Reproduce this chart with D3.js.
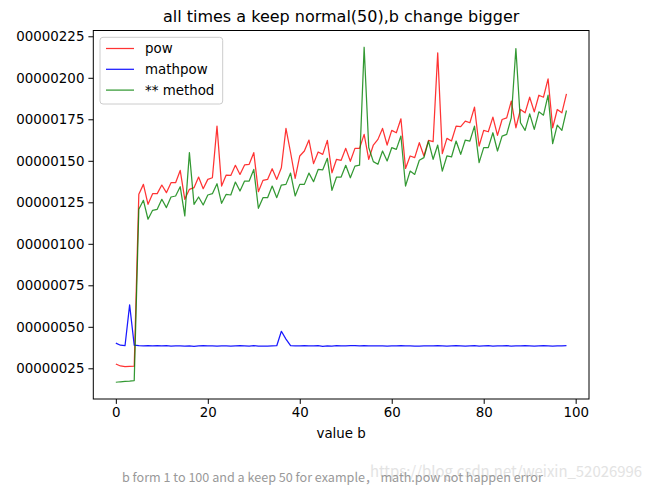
<!DOCTYPE html>
<html>
<head>
<meta charset="utf-8">
<script src="https://cdn.jsdelivr.net/npm/d3@7"></script>
<style>
  html, body { margin: 0; padding: 0; background: #fff; }
  svg { display: block; font-family: "DejaVu Sans", sans-serif; }
</style>
</head>
<body>
<svg id="chart" width="651" height="492"></svg>
<script>
// ---- data ----
const xValues = d3.range(0, 99); // value b
const powValues = [
  27.6, 26.4, 26.0, 26.2, 26.3, 129.8, 135.8, 123.8, 130.2, 130.2,
  135.4, 130.8, 136.8, 136.8, 144.2, 126.8, 132.8, 133.8, 140.2, 133.2,
  138.8, 139.8, 170.9, 134.8, 141.4, 141.2, 147.3, 141.8, 147.5, 147.9,
  154.9, 131.4, 138.2, 138.8, 145.2, 138.8, 145.8, 169.5, 155.0, 139.4,
  152.9, 155.9, 162.5, 148.3, 155.3, 153.9, 162.3, 142.8, 150.9, 150.3,
  157.5, 149.7, 157.5, 157.5, 165.9, 150.9, 159.5, 162.9, 169.5, 159.5,
  168.3, 166.9, 175.3, 145.4, 152.9, 151.9, 160.9, 152.9, 162.3, 161.5,
  215.0, 154.3, 163.5, 161.9, 170.9, 170.6, 173.9, 172.9, 182.3, 158.9,
  168.3, 167.5, 176.3, 165.3, 174.9, 175.9, 185.9, 169.9, 180.9, 178.9,
  188.3, 179.5, 189.5, 188.3, 199.4, 169.9, 180.9, 178.9, 190.3
];
const mathpowValues = [
  40.2, 38.9, 38.6, 63.2, 38.9, 38.6, 38.5, 38.6, 38.5, 38.6,
  38.5, 38.6, 38.4, 38.5, 38.5, 38.4, 38.5, 38.2, 38.5, 38.6,
  38.5, 38.5, 38.4, 38.5, 38.5, 38.3, 38.5, 38.6, 38.5, 38.4,
  38.6, 38.4, 38.3, 38.4, 38.5, 38.6, 47.3, 42.6, 38.6, 38.5,
  38.5, 38.6, 38.5, 38.5, 38.6, 38.2, 38.5, 38.4, 38.6, 38.5,
  38.5, 38.6, 38.6, 38.5, 38.6, 38.5, 38.5, 38.5, 38.5, 38.4,
  38.5, 38.5, 38.7, 38.5, 38.5, 38.3, 38.4, 38.5, 38.5, 38.5,
  38.6, 38.5, 38.4, 38.5, 38.6, 38.5, 38.3, 38.5, 38.6, 38.4,
  38.5, 38.6, 38.4, 38.5, 38.5, 38.6, 38.4, 38.5, 38.5, 38.6,
  38.5, 38.4, 38.5, 38.6, 38.5, 38.4, 38.5, 38.5, 38.6
];
const starValues = [
  16.6, 16.9, 17.1, 17.3, 17.6, 120.8, 126.2, 114.8, 120.2, 120.8,
  126.8, 121.8, 128.2, 128.8, 134.4, 116.8, 154.9, 123.8, 128.2, 123.4,
  129.4, 130.2, 136.2, 124.4, 129.8, 129.4, 137.2, 131.8, 137.8, 137.8,
  144.8, 121.4, 127.8, 127.8, 134.8, 127.8, 135.4, 135.8, 142.6, 128.8,
  135.8, 135.8, 142.6, 137.4, 144.8, 144.6, 151.5, 132.2, 140.2, 140.2,
  147.3, 139.8, 146.8, 147.4, 218.4, 158.0, 149.5, 147.9, 155.9, 149.9,
  157.9, 156.9, 164.9, 134.8, 143.8, 141.8, 150.3, 151.9, 161.9, 150.9,
  159.5, 143.8, 152.9, 152.3, 161.9, 153.9, 162.5, 161.9, 170.9, 148.9,
  157.9, 157.9, 166.9, 155.9, 164.9, 165.9, 175.9, 217.6, 172.9, 168.3,
  178.3, 168.9, 179.5, 177.5, 189.5, 160.3, 171.5, 168.3, 180.3
];
const seriesNames = ["pow", "mathpow", "** method"];
const seriesColors = ["#ff0000", "#0000ff", "#008000"];
const xTicks = [0, 20, 40, 60, 80, 100];
const yTicks = [25, 50, 75, 100, 125, 150, 175, 200, 225];
const titleText = "all times a keep normal(50),b change bigger";
const xLabelText = "value b";
const captionText = "b form 1 to 100 and a keep 50 for example，  math.pow not happen error";
const watermarkText = "https://blog.csdn.net/weixin_52026996";

// ---- layout ----
const svg = d3.select("#chart");
const L = 93.3, R = 589, T = 30.5, B = 399;

const allY = powValues.concat(mathpowValues, starValues);
const yMin = d3.min(allY), yMax = d3.max(allY);
const yPad = (yMax - yMin) * 0.05;
const xPad = (d3.max(xValues) - d3.min(xValues)) * 0.05;

const x = d3.scaleLinear().domain([d3.min(xValues) - xPad, d3.max(xValues) + xPad]).range([L, R]);
const y = d3.scaleLinear().domain([yMin - yPad, yMax + yPad]).range([B, T]);

svg.append("rect").attr("width", 651).attr("height", 492).attr("fill", "#fff");

// lines
const series = [powValues, mathpowValues, starValues];
const line = d3.line().x((d, i) => x(xValues[i])).y(d => y(d));
const g = svg.append("g");
[0, 1, 2].forEach(k => {
  g.append("path")
    .datum(series[k])
    .attr("d", line)
    .attr("fill", "none")
    .attr("stroke", seriesColors[k])
    .attr("stroke-opacity", k === 1 ? 0.9 : 0.8)
    .attr("stroke-width", 1.25)
    .attr("stroke-linejoin", "round");
});

// axes
const fmt = d3.format("08d");
const xAxis = d3.axisBottom(x).tickValues(xTicks).tickSize(4.9).tickPadding(4);
const yAxis = d3.axisLeft(y).tickValues(yTicks).tickFormat(fmt).tickSize(4.9).tickPadding(4);

const gx = svg.append("g").attr("transform", `translate(0,${B})`).call(xAxis);
const gy = svg.append("g").attr("transform", `translate(${L},0)`).call(yAxis);
[gx, gy].forEach(a => {
  a.select(".domain").remove();
  a.selectAll("line").attr("stroke", "#000").attr("stroke-width", 1);
  a.selectAll("text").attr("font-family", "DejaVu Sans").attr("font-size", 13.4).attr("fill", "#000");
});

// frame
svg.append("rect").attr("x", L).attr("y", T).attr("width", R - L).attr("height", B - T)
  .attr("fill", "none").attr("stroke", "#000").attr("stroke-width", 1);

// title & labels
svg.append("text").attr("x", (L + R) / 2).attr("y", 22).attr("text-anchor", "middle")
  .attr("font-size", 16).attr("fill", "#000").text(titleText);
svg.append("text").attr("x", (L + R) / 2).attr("y", 438).attr("text-anchor", "middle")
  .attr("font-size", 13.4).attr("fill", "#000").text(xLabelText);

// legend
const lg = svg.append("g");
lg.append("rect").attr("x", 100).attr("y", 37.3).attr("width", 122.7).attr("height", 66.7)
  .attr("rx", 3).attr("fill", "#fff").attr("fill-opacity", 0.8)
  .attr("stroke", "#cccccc").attr("stroke-width", 1);
seriesNames.forEach((name, i) => {
  const cy = 48.5 + i * 20.8;
  lg.append("line").attr("x1", 106).attr("x2", 134).attr("y1", cy).attr("y2", cy)
    .attr("stroke", seriesColors[i]).attr("stroke-opacity", i === 1 ? 0.9 : 0.8).attr("stroke-width", 1.25);
  lg.append("text").attr("x", 145).attr("y", cy + 4.8).attr("font-size", 13.4).attr("fill", "#000").text(name);
});

// caption & watermark
svg.append("text").attr("x", 370).attr("y", 477).attr("font-family", "Noto Sans CJK SC, sans-serif")
  .attr("font-size", 15).attr("textLength", 272).attr("lengthAdjust", "spacingAndGlyphs")
  .attr("fill", "#e3e3e3").text(watermarkText);
svg.append("text").attr("x", 122).attr("y", 482).attr("font-family", "Noto Sans CJK SC, sans-serif")
  .attr("font-size", 12.6).attr("fill", "#999999").text(captionText);
</script>
</body>
</html>
